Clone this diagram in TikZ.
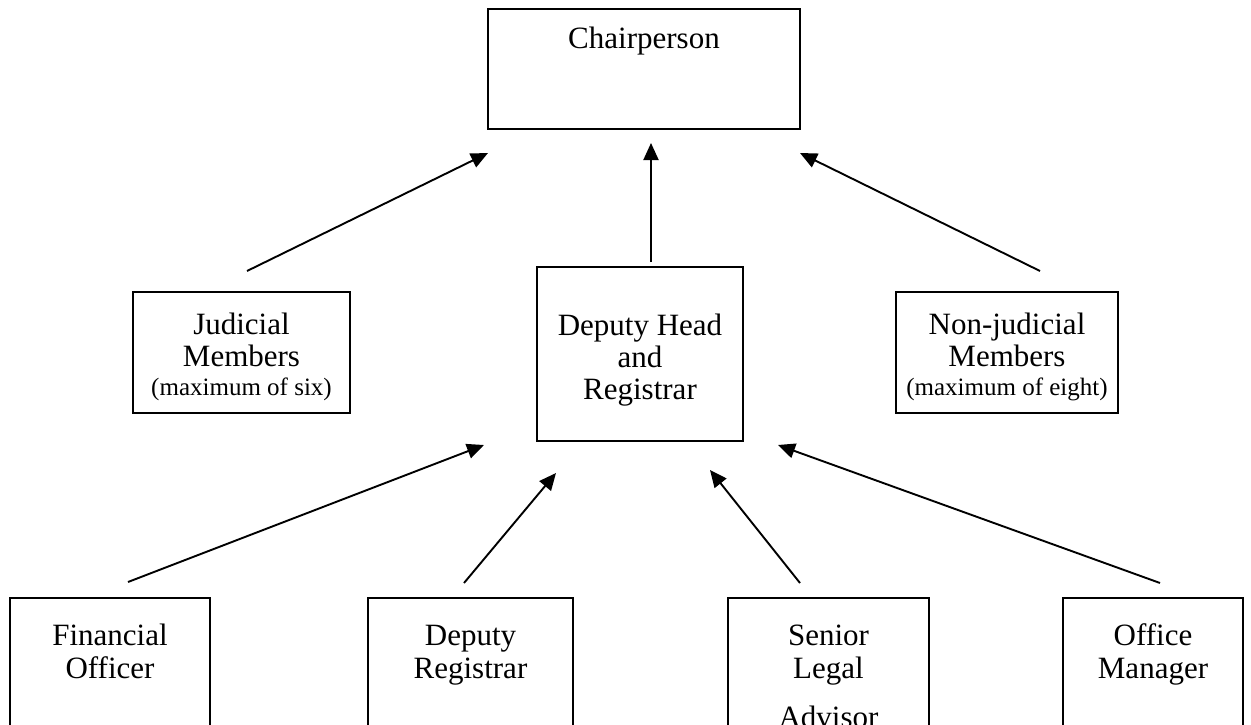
\documentclass[tikz,border=0pt]{standalone}
\usepackage{fontspec}
\setmainfont{Liberation Serif}
\usetikzlibrary{arrows.meta}
\tikzset{
  box/.style={draw=black, line width=1.8pt, fill=none},
  lbl/.style={align=center, font=\fontsize{31}{34}\selectfont, inner sep=0pt},
  small/.style={font=\fontsize{25}{28}\selectfont},
  conn/.style={line width=1.9pt, -{Triangle[length=17pt,width=15pt]}}
}
\begin{document}
\begin{tikzpicture}[x=1pt,y=-1pt]
\useasboundingbox (0,0) rectangle (1251,725);
\clip (0,0) rectangle (1251,725);
% boxes
\draw[box] (488,9) rectangle (800,129);
\node[lbl, anchor=base] (tchair) at (644,49) {Chairperson};
\draw[box] (133,292) rectangle (350,413);
\node[lbl, anchor=base] (tjud1) at (241.5,334) {Judicial};
\node[lbl, anchor=base] (tjud2) at (241.5,366) {Members};
\node[lbl, small, anchor=base] (tjud3) at (241.5,395) {(maximum of six)};
\draw[box] (537,267) rectangle (743,441);
\node[lbl, anchor=base] (tdep1) at (640,335) {Deputy Head};
\node[lbl, anchor=base] (tdep2) at (640,367) {and};
\node[lbl, anchor=base] (tdep3) at (640,399) {Registrar};
\draw[box] (896,292) rectangle (1118,413);
\node[lbl, anchor=base] (tnon1) at (1007,334) {Non-judicial};
\node[lbl, anchor=base] (tnon2) at (1007,366) {Members};
\node[lbl, small, anchor=base] (tnon3) at (1007,395) {(maximum of eight)};
\draw[box] (10,598) rectangle (210,760);
\node[lbl, anchor=base] (tfin1) at (110,645) {Financial};
\node[lbl, anchor=base] (tfin2) at (110,678) {Officer};
\draw[box] (368,598) rectangle (573,760);
\node[lbl, anchor=base] (tdreg1) at (470.5,645) {Deputy};
\node[lbl, anchor=base] (tdreg2) at (470.5,678) {Registrar};
\draw[box] (728,598) rectangle (929,760);
\node[lbl, anchor=base] (tsla1) at (828.5,645) {Senior};
\node[lbl, anchor=base] (tsla2) at (828.5,678) {Legal};
\node[lbl, anchor=base] (tsla3) at (828.5,727) {Advisor};
\draw[box] (1063,598) rectangle (1243,760);
\node[lbl, anchor=base] (tom1) at (1153,645) {Office};
\node[lbl, anchor=base] (tom2) at (1153,678) {Manager};
% connector ends
\coordinate (a1s) at (247,271); \coordinate (a1e) at (488,153);
\coordinate (a2s) at (651,262); \coordinate (a2e) at (651,143);
\coordinate (a3s) at (1040,271); \coordinate (a3e) at (800,153);
\coordinate (b1s) at (128,582); \coordinate (b1e) at (484,445);
\coordinate (b2s) at (464,583); \coordinate (b2e) at (556,473);
\coordinate (b3s) at (800,583); \coordinate (b3e) at (710,470);
\coordinate (b4s) at (1160,583); \coordinate (b4e) at (778,445);
\draw[conn] (a1s) -- (a1e);
\draw[conn] (a2s) -- (a2e);
\draw[conn] (a3s) -- (a3e);
\draw[conn] (b1s) -- (b1e);
\draw[conn] (b2s) -- (b2e);
\draw[conn] (b3s) -- (b3e);
\draw[conn] (b4s) -- (b4e);
\end{tikzpicture}
\end{document}
